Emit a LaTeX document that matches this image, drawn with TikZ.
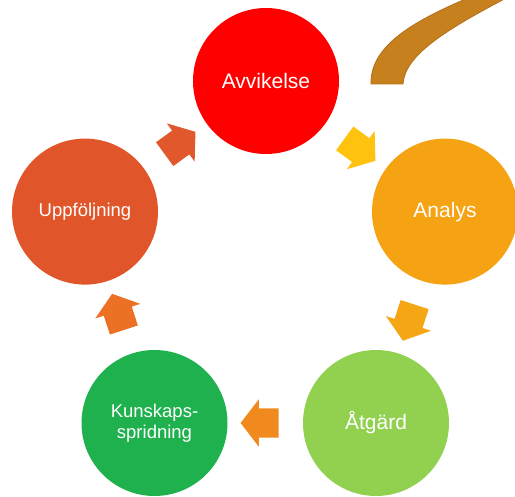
\documentclass[tikz,border=0pt]{standalone}
\usepackage{fontspec}
\setmainfont{Liberation Sans}
\usetikzlibrary{shapes.arrows,calc}
\definecolor{cRed}{HTML}{FF0000}
\definecolor{cAna}{HTML}{F5A313}
\definecolor{cAtg}{HTML}{92D050}
\definecolor{cKun}{HTML}{1EB14E}
\definecolor{cUpp}{HTML}{E0562A}
\definecolor{aOne}{HTML}{FFC20E}
\definecolor{aTwo}{HTML}{F5A614}
\definecolor{aThree}{HTML}{F08A1E}
\definecolor{aFour}{HTML}{EC7124}
\definecolor{aFive}{HTML}{E0582B}
\definecolor{brownFill}{HTML}{C6801D}
\definecolor{brownLine}{HTML}{B37016}
\tikzset{
  stage/.style={circle, minimum size=146pt, inner sep=0pt, text=white,
    font=\fontsize{21}{25}\selectfont, align=center},
  smallstage/.style={stage, font=\fontsize{18.5}{21}\selectfont},
  blockarrow/.style={single arrow, minimum height=38pt, minimum width=47pt,
    single arrow head extend=9pt, single arrow tip angle=105, inner sep=0pt,
    outer sep=0pt, draw=none}
}
\newcommand{\shaftrule}{\rule{0pt}{29pt}}
\begin{document}
\begin{tikzpicture}[x=1pt,y=-1pt]
\useasboundingbox (0,0) rectangle (515,497);
\begin{scope}
\clip (0,0) rectangle (515,497);
\fill[brownFill, draw=brownLine, line width=0.8pt]
  (371,84) .. controls (370,45) and (415,20) .. (475,-5)
  -- (512,-5) .. controls (445,30) and (405,55) .. (403,84) -- cycle;
\end{scope}
\node[stage, fill=cRed] (avv) at (266,81) {Avvikelse};
\node[stage, fill=cAna] (ana) at (445,211.6) {Analys};
\node[stage, fill=cAtg] (atg) at (376,423) {Åtgärd};
\node[smallstage, fill=cKun] (kun) at (154.5,423) {Kunskaps-\\spridning};
\node[smallstage, fill=cUpp] (upp) at (85,211.6) {Uppföljning};
\node[blockarrow, fill=aOne, rotate=-36] (a1) at ($(avv)!0.5!(ana)$) {\shaftrule};
\node[blockarrow, fill=aTwo, rotate=-108] (a2) at ($(ana)!0.5!(atg)$) {\shaftrule};
\node[blockarrow, fill=aThree, rotate=180] (a3) at ($(atg)!0.5!(kun)$) {\shaftrule};
\node[blockarrow, fill=aFour, rotate=108] (a4) at ($(kun)!0.5!(upp)$) {\shaftrule};
\node[blockarrow, fill=aFive, rotate=36] (a5) at ($(upp)!0.5!(avv)$) {\shaftrule};
\end{tikzpicture}
\end{document}
